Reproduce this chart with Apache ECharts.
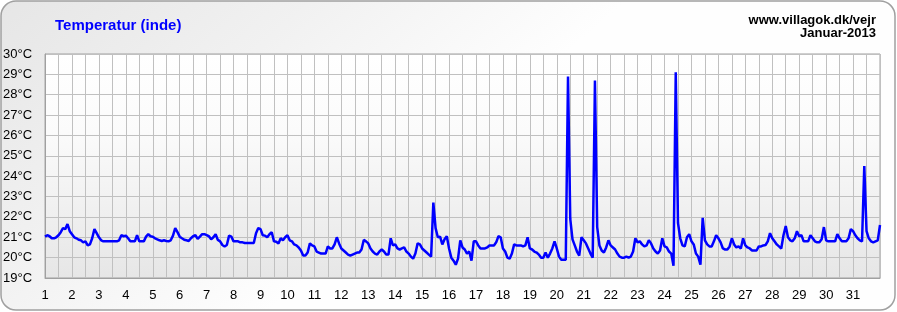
<!DOCTYPE html>
<html>
<head>
<meta charset="utf-8">
<script src="https://cdn.jsdelivr.net/npm/echarts@6/dist/echarts.min.js"></script>
<style>
html,body{margin:0;padding:0;background:#ffffff;}
#chart{width:897px;height:312px;}
</style>
</head>
<body>
<div id="chart"></div>
<script>
// Title texts
const chartTitle = 'Temperatur (inde)';
const sourceText = 'www.villagok.dk/vejr';
const periodText = 'Januar-2013';

// X axis: days of January (value axis 1..32), labels 1..31
const firstDay = 1;
const lastDay = 32;
const dayLabels = [1,2,3,4,5,6,7,8,9,10,11,12,13,14,15,16,17,18,19,20,21,22,23,24,25,26,27,28,29,30,31];

// Y axis ticks (°C)
const yMin = 19;
const yMax = 30;
const yStep = 1;

// Readings every 2 hours (12 per day)
const samplesPerDay = 12;
const temps = [
  21.03,21.1,21.05,20.95,20.95,21.0,21.1,21.25,21.45,21.4,21.65,21.3,      // 1
  21.15,21.0,20.95,20.88,20.85,20.75,20.8,20.6,20.65,20.95,21.4,21.2,      // 2
  21.0,20.85,20.8,20.8,20.8,20.8,20.8,20.8,20.8,20.85,21.1,21.05,          // 3
  21.08,20.95,20.8,20.8,20.8,21.1,20.8,20.8,20.8,21.03,21.15,21.05,        // 4
  21.03,20.95,20.9,20.85,20.82,20.85,20.82,20.8,20.85,21.08,21.45,21.25,   // 5
  21.03,20.95,20.88,20.85,20.82,20.95,21.05,21.1,20.92,21.03,21.15,21.15,  // 6
  21.1,21.05,20.9,21.0,21.15,20.87,20.8,20.62,20.55,20.62,21.08,21.03,     // 7
  20.8,20.8,20.8,20.75,20.75,20.72,20.72,20.72,20.72,20.72,21.2,21.45,     // 8
  21.4,21.1,21.08,21.0,21.15,21.25,20.8,20.78,20.7,20.95,20.85,21.0,       // 9
  21.1,20.85,20.8,20.65,20.6,20.5,20.35,20.1,20.1,20.25,20.7,20.6,         // 10
  20.55,20.3,20.25,20.2,20.2,20.2,20.55,20.45,20.45,20.65,21.0,20.7,       // 11
  20.45,20.35,20.25,20.15,20.1,20.15,20.2,20.25,20.25,20.4,20.87,20.8,     // 12
  20.7,20.45,20.3,20.2,20.15,20.3,20.4,20.3,20.15,20.15,20.95,20.6,        // 13
  20.65,20.45,20.4,20.45,20.5,20.3,20.2,20.05,19.95,20.2,20.7,20.65,       // 14
  20.45,20.35,20.25,20.15,20.05,22.7,21.45,21.0,21.03,20.65,20.9,21.05,    // 15
  20.45,20.0,19.85,19.65,19.95,20.85,20.5,20.4,20.2,20.3,19.85,20.8,       // 16
  20.8,20.6,20.45,20.45,20.45,20.5,20.6,20.6,20.6,20.75,21.05,21.0,        // 17
  20.45,20.3,20.0,19.95,20.2,20.65,20.6,20.6,20.6,20.55,20.6,21.0,         // 18
  20.45,20.4,20.3,20.25,20.15,20.0,20.0,20.25,20.0,20.2,20.45,20.8,        // 19
  20.45,20.05,19.9,19.9,19.9,28.9,21.9,20.9,20.6,20.3,20.1,21.0,           // 20
  20.85,20.7,20.45,20.2,20.0,28.7,21.5,20.6,20.35,20.25,20.5,20.85,        // 21
  20.6,20.5,20.4,20.2,20.05,20.0,20.0,20.05,20.0,20.05,20.3,20.95,         // 22
  20.75,20.8,20.65,20.55,20.6,20.85,20.7,20.45,20.3,20.2,20.35,20.95,      // 23
  20.55,20.5,20.3,20.2,19.6,29.1,21.7,20.95,20.6,20.55,21.0,21.15,         // 24
  20.8,20.65,20.2,20.05,19.65,21.95,20.85,20.65,20.55,20.55,20.8,21.1,     // 25
  20.95,20.75,20.45,20.4,20.4,20.55,20.95,20.65,20.5,20.55,20.45,20.95,    // 26
  20.6,20.5,20.45,20.35,20.35,20.35,20.55,20.55,20.6,20.62,20.8,21.2,      // 27
  20.95,20.8,20.65,20.55,20.45,21.1,21.55,21.0,20.85,20.8,20.95,21.3,      // 28
  21.05,21.1,20.8,20.8,20.8,21.1,20.95,20.8,20.75,20.75,20.9,21.5,         // 29
  20.85,20.8,20.8,20.8,20.8,21.15,20.95,20.8,20.8,20.8,20.95,21.4,         // 30
  21.3,21.1,20.95,20.85,20.8,24.5,21.3,20.95,20.8,20.75,20.8,20.85,        // 31
  21.6                                                                      // end
];

const seriesData = temps.map((v, i) => [firstDay + i / samplesPerDay, v]);

const FONT = 'Liberation Sans, Arial, sans-serif';
const chart = echarts.init(document.getElementById('chart'), null, {renderer: 'canvas'});
const option = {
  animation: false,
  backgroundColor: 'transparent',
  graphic: {
    elements: [
      {
        type: 'rect', z: -100, silent: true,
        shape: {x: 1, y: 1, width: 894, height: 309, r: 15},
        style: {
          fill: new echarts.graphic.LinearGradient(0, 0, 0.3, 1, [
            {offset: 0, color: '#e6e6e6'},
            {offset: 0.5, color: '#f1f1f1'},
            {offset: 1, color: '#fefefe'}
          ]),
          stroke: '#a0a0a0', lineWidth: 1.5
        }
      },
      {
        type: 'text', z: 10, silent: true,
        style: {x: 876, y: 20, text: sourceText, align: 'right', verticalAlign: 'middle',
          fill: '#000', font: 'bold 13px ' + FONT}
      },
      {
        type: 'text', z: 10, silent: true,
        style: {x: 876, y: 33, text: periodText, align: 'right', verticalAlign: 'middle',
          fill: '#000', font: 'bold 13px ' + FONT}
      },
      {
        type: 'text', z: 10, silent: true,
        style: {x: 55, y: 26, text: chartTitle, align: 'left', verticalAlign: 'middle',
          fill: '#0000ff', font: 'bold 15px ' + FONT}
      }
    ]
  },
  grid: {
    left: 44, right: 17, top: 54, bottom: 34,
    show: true,
    borderColor: '#a0a0a0', borderWidth: 1,
    backgroundColor: new echarts.graphic.LinearGradient(0, 0, 0, 1, [
      {offset: 0, color: '#ffffff'},
      {offset: 0.35, color: '#fbfbfb'},
      {offset: 1, color: '#e6e6e6'}
    ])
  },
  xAxis: {
    type: 'value', min: firstDay, max: lastDay, interval: 0.5,
    axisLine: {show: true, lineStyle: {color: '#a0a0a0', width: 1}},
    axisTick: {show: false},
    splitLine: {show: true, lineStyle: {color: '#c0c0c0', width: 1}},
    axisLabel: {
      margin: 11, color: '#000', fontSize: 13, fontFamily: FONT,
      showMaxLabel: false,
      formatter: function (v) {
        return dayLabels.indexOf(v) >= 0 ? String(v) : '';
      }
    }
  },
  yAxis: {
    type: 'value', min: yMin, max: yMax, interval: yStep,
    axisLine: {show: true, lineStyle: {color: '#a0a0a0', width: 1}},
    axisTick: {show: false},
    splitLine: {show: true, lineStyle: {color: '#c0c0c0', width: 1}},
    axisLabel: {
      margin: 13, color: '#000', fontSize: 13, fontFamily: FONT,
      formatter: '{value}°C'
    }
  },
  series: [{
    type: 'line',
    data: seriesData,
    showSymbol: false,
    symbol: 'none',
    lineStyle: {color: '#0000ff', width: 2.5},
    itemStyle: {color: '#0000ff'},
    clip: true
  }]
};
chart.setOption(option);
</script>
</body>
</html>
